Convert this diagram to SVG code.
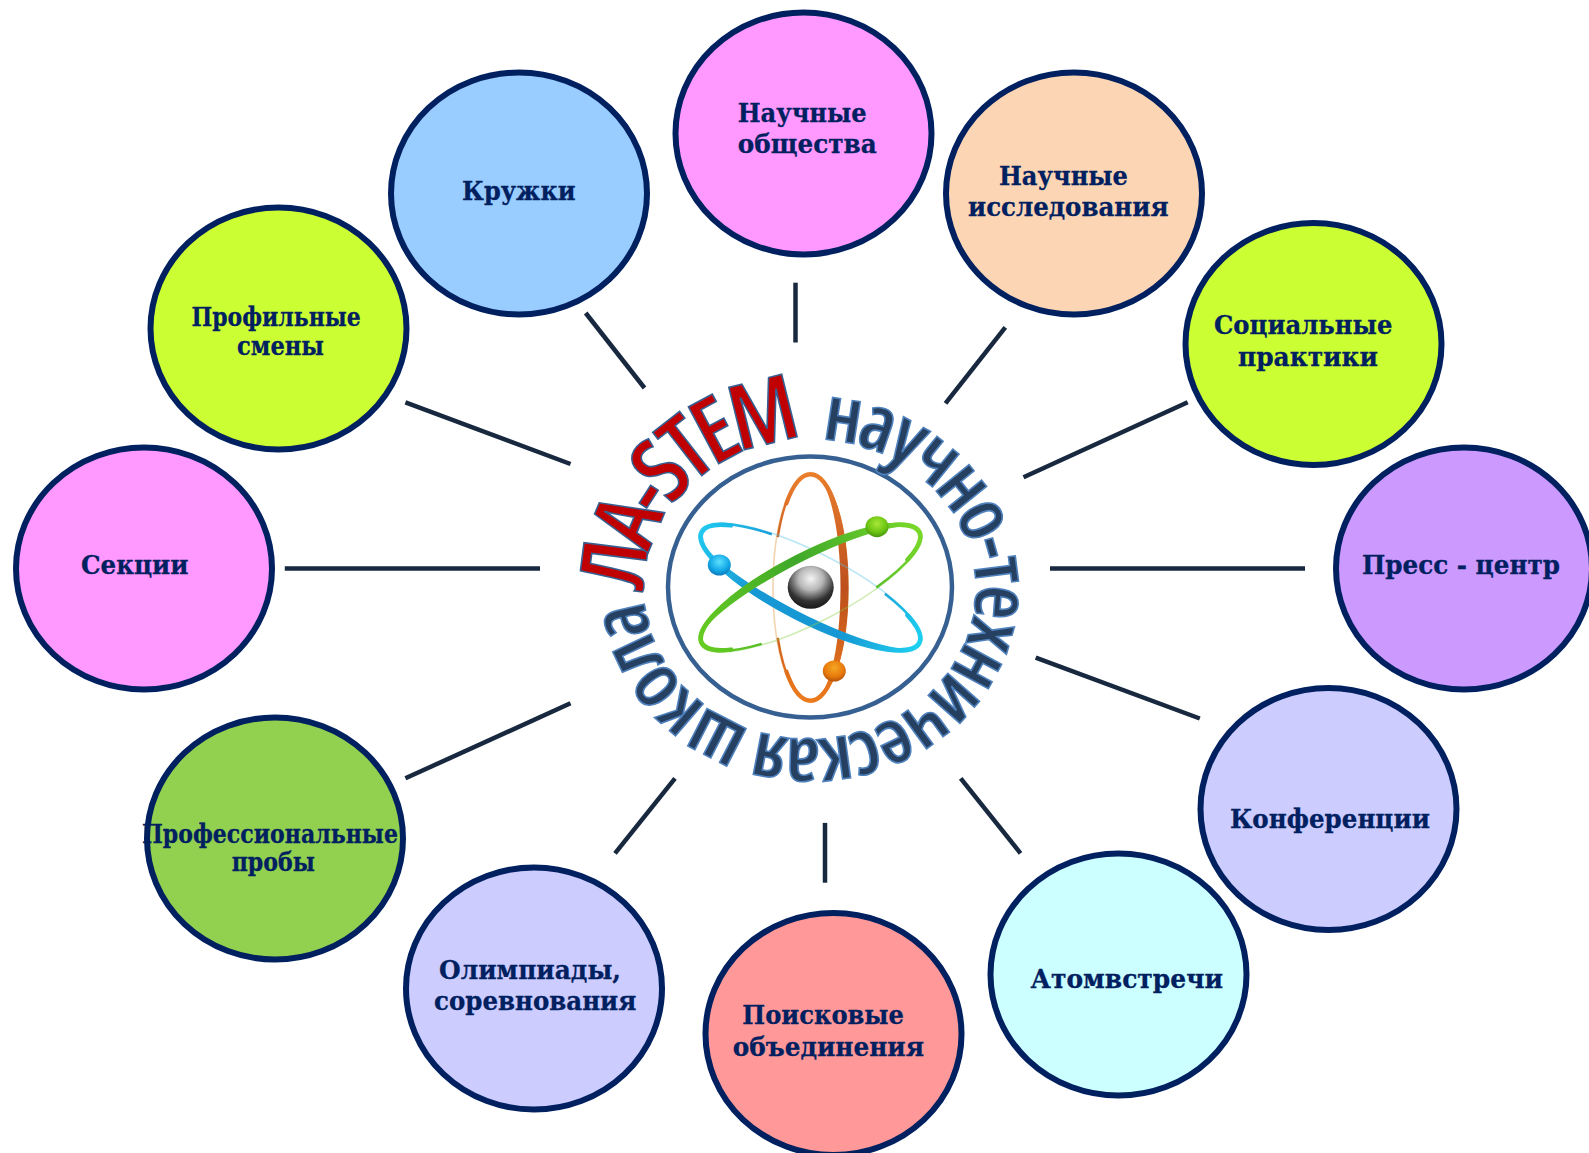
<svg xmlns="http://www.w3.org/2000/svg" width="1589" height="1153" viewBox="0 0 1589 1153">
<style>
.c{stroke:#002060;stroke-width:6}
.t{font-family:"DejaVu Serif","Liberation Serif",serif;font-weight:700;font-size:26px;fill:#002060;stroke:#002060;stroke-width:.3}
.l{stroke:#17283f;stroke-width:4.5;fill:none}
.ring{font-family:"Open Sans",sans-serif;font-stretch:75%;font-weight:600;stroke:#4f81bd;stroke-width:1.6}
</style>
<defs>
<path id="ringPath" d="M644 592 A166 151 0 1 1 976 588 A166 151 0 1 1 644 588"/>
<filter id="soft" x="-10%" y="-10%" width="120%" height="120%"><feGaussianBlur stdDeviation=".6"/></filter>
<radialGradient id="gk" cx=".5" cy=".3" r=".75"><stop offset="0" stop-color="#f4f4f4"/><stop offset=".35" stop-color="#b8b8b8"/><stop offset=".7" stop-color="#333"/><stop offset="1" stop-color="#111"/></radialGradient>
<radialGradient id="gb" cx=".5" cy=".35" r=".7"><stop offset="0" stop-color="#5fe0ff"/><stop offset=".6" stop-color="#12a8e6"/><stop offset="1" stop-color="#0a6fb0"/></radialGradient>
<radialGradient id="gg" cx=".5" cy=".35" r=".7"><stop offset="0" stop-color="#a8e838"/><stop offset=".6" stop-color="#6cc412"/><stop offset="1" stop-color="#3f8a10"/></radialGradient>
<radialGradient id="go" cx=".5" cy=".35" r=".7"><stop offset="0" stop-color="#f5a623"/><stop offset=".6" stop-color="#e87a0c"/><stop offset="1" stop-color="#a84a08"/></radialGradient>
<linearGradient id="bo" x1="0" x2="1"><stop offset="0" stop-color="#20c8ee"/><stop offset=".3" stop-color="#1898d4"/><stop offset=".7" stop-color="#1898d4"/><stop offset="1" stop-color="#1fd0f0"/></linearGradient>
<linearGradient id="gr" x1="0" x2="1"><stop offset="0" stop-color="#66cc22"/><stop offset=".5" stop-color="#3fa82a"/><stop offset="1" stop-color="#78d82a"/></linearGradient>
<linearGradient id="or" x1="0" y1="0" x2="0" y2="1"><stop offset="0" stop-color="#ea7e2c"/><stop offset=".5" stop-color="#bc4f1e"/><stop offset="1" stop-color="#ec7a1c"/></linearGradient>
</defs>
<g id="connectors">
<line class="l" x1="585.7" y1="313" x2="644.5" y2="388"/>
<line class="l" x1="795.5" y1="282.7" x2="795.5" y2="342.5"/>
<line class="l" x1="1005.3" y1="327.3" x2="945.5" y2="403.3"/>
<line class="l" x1="1187.7" y1="402.3" x2="1023.5" y2="477.3"/>
<line class="l" x1="1050" y1="568.5" x2="1305" y2="568.5"/>
<line class="l" x1="1035.7" y1="657.7" x2="1199.8" y2="718.5"/>
<line class="l" x1="960.7" y1="778.3" x2="1020.5" y2="853.3"/>
<line class="l" x1="825" y1="822.9" x2="825" y2="882.7"/>
<line class="l" x1="675" y1="778.3" x2="615" y2="853.3"/>
<line class="l" x1="570.5" y1="703.3" x2="405.4" y2="778.3"/>
<line class="l" x1="284.8" y1="568.5" x2="540" y2="568.5"/>
<line class="l" x1="405.4" y1="402.3" x2="570.5" y2="464"/>
</g>
<g id="n-nauch-obsh"><ellipse class="c" cx="803.5" cy="133.5" rx="128" ry="121" fill="#FF99FF"/><text class="t" x="737.7" y="121.6" textLength="129" lengthAdjust="spacingAndGlyphs">Научные</text><text class="t" x="737.7" y="153" textLength="139" lengthAdjust="spacingAndGlyphs">общества</text></g>
<g id="n-kruzhki"><ellipse class="c" cx="519" cy="193.5" rx="128" ry="121" fill="#99CCFF"/><text class="t" x="462" y="199.6" textLength="113.6" lengthAdjust="spacingAndGlyphs">Кружки</text></g>
<g id="n-nauch-issl"><ellipse class="c" cx="1074" cy="193.5" rx="128" ry="121" fill="#FCD5B5"/><text class="t" x="999" y="184.5" textLength="129" lengthAdjust="spacingAndGlyphs">Научные</text><text class="t" x="968" y="216" textLength="200.5" lengthAdjust="spacingAndGlyphs">исследования</text></g>
<g id="n-profil"><ellipse class="c" cx="278.5" cy="328.5" rx="128" ry="121" fill="#CCFF33"/><text class="t" x="191.5" y="326" textLength="169.3" lengthAdjust="spacingAndGlyphs">Профильные</text><text class="t" x="237" y="354.7" textLength="87" lengthAdjust="spacingAndGlyphs">смены</text></g>
<g id="n-social"><ellipse class="c" cx="1313.5" cy="344" rx="128" ry="121" fill="#CCFF33"/><text class="t" x="1214" y="334.4" textLength="178.4" lengthAdjust="spacingAndGlyphs">Социальные</text><text class="t" x="1238" y="366" textLength="140" lengthAdjust="spacingAndGlyphs">практики</text></g>
<g id="n-sekcii"><ellipse class="c" cx="144" cy="568.5" rx="128" ry="121" fill="#FF99FF"/><text class="t" x="81" y="573.6" textLength="107.5" lengthAdjust="spacingAndGlyphs">Секции</text></g>
<g id="n-press"><ellipse class="c" cx="1464" cy="568.5" rx="128" ry="121" fill="#CC99FF"/><text class="t" x="1362" y="574" textLength="198" lengthAdjust="spacingAndGlyphs">Пресс - центр</text></g>
<g id="n-konf"><ellipse class="c" cx="1328.5" cy="809" rx="128" ry="121" fill="#CCCCFF"/><text class="t" x="1230" y="828" textLength="200" lengthAdjust="spacingAndGlyphs">Конференции</text></g>
<g id="n-atom"><ellipse class="c" cx="1118.5" cy="974.5" rx="128" ry="121" fill="#CCFFFF"/><text class="t" x="1030.6" y="988" textLength="192.4" lengthAdjust="spacingAndGlyphs">Атомвстречи</text></g>
<g id="n-poisk"><ellipse class="c" cx="833.5" cy="1034" rx="128" ry="121" fill="#FF9999"/><text class="t" x="742.3" y="1024.3" textLength="161.7" lengthAdjust="spacingAndGlyphs">Поисковые</text><text class="t" x="732.7" y="1056" textLength="191.3" lengthAdjust="spacingAndGlyphs">объединения</text></g>
<g id="n-olimp"><ellipse class="c" cx="534" cy="988.5" rx="128" ry="121" fill="#CCCCFF"/><text class="t" x="439" y="979" textLength="182" lengthAdjust="spacingAndGlyphs">Олимпиады,</text><text class="t" x="434" y="1010" textLength="202.4" lengthAdjust="spacingAndGlyphs">соревнования</text></g>
<g id="n-prof"><ellipse class="c" cx="275" cy="838.5" rx="128" ry="121" fill="#92D050"/><text class="t" x="142" y="842.7" textLength="256" lengthAdjust="spacingAndGlyphs">Профессиональные</text><text class="t" x="231.7" y="870.5" textLength="83.3" lengthAdjust="spacingAndGlyphs">пробы</text></g>
<g id="center">
<ellipse cx="810" cy="587" rx="142" ry="130.5" fill="#fff" stroke="#376092" stroke-width="4.5"/>
<g transform="translate(810.5 587.5)" filter="url(#soft)">
<ellipse rx="37.5" ry="115" fill="none" stroke="#e8b070" stroke-opacity=".55" stroke-width="1.6"/>
<ellipse rx="36.5" ry="114" fill="none" stroke="url(#or)" stroke-width="2.4" pathLength="100" stroke-dasharray="80 20" stroke-dashoffset="-60"/>
<ellipse rx="36" ry="113" fill="none" stroke="url(#or)" stroke-width="4" stroke-linecap="round" pathLength="100" stroke-dasharray="66 34" stroke-dashoffset="-67"/>
<path d="M0-115A37.5 115 0 0 1 0 115A30 115 0 0 0 0-115Z" fill="url(#or)"/>
<g transform="rotate(27)"><ellipse rx="124" ry="35" fill="none" stroke="#55c4e4" stroke-opacity=".4" stroke-width="1.6"/><ellipse rx="123" ry="34" fill="none" stroke="url(#bo)" stroke-width="2.4" pathLength="100" stroke-dasharray="76 24" stroke-dashoffset="12"/><ellipse rx="122" ry="33" fill="none" stroke="url(#bo)" stroke-width="4.5" stroke-linecap="round" pathLength="100" stroke-dasharray="62 38" stroke-dashoffset="6"/><path d="M-124 0A124 35 0 0 0 124 0A124 27 0 0 1-124 0Z" fill="url(#bo)"/></g>
<g transform="rotate(-27)"><ellipse rx="124" ry="35" fill="none" stroke="#88d040" stroke-opacity=".4" stroke-width="1.6"/><ellipse rx="123" ry="34" fill="none" stroke="url(#gr)" stroke-width="2.4" pathLength="100" stroke-dasharray="76 24" stroke-dashoffset="-38"/><ellipse rx="122" ry="33" fill="none" stroke="url(#gr)" stroke-width="4.5" stroke-linecap="round" pathLength="100" stroke-dasharray="62 38" stroke-dashoffset="-44"/><path d="M-124 0A124 35 0 0 1 124 0A124 27 0 0 0-124 0Z" fill="url(#gr)"/></g>
</g>
<ellipse cx="719.3" cy="565" rx="11.5" ry="10.5" fill="url(#gb)"/>
<ellipse cx="877" cy="526.7" rx="11.5" ry="10.5" fill="url(#gg)"/>
<ellipse cx="834.3" cy="671" rx="11.5" ry="10.5" fill="url(#go)"/>
<ellipse cx="810.7" cy="587.3" rx="23" ry="21.5" fill="url(#gk)"/>
<text class="ring" font-size="78" letter-spacing="-4"><textPath href="#ringPath"><tspan fill="#c00000" font-size="90" letter-spacing="-8.5" stroke="#376092">ЛА-STEM</tspan><tspan fill="#254061" dx="16"> научно-техническая школа</tspan></textPath></text>
</g>
</svg>
